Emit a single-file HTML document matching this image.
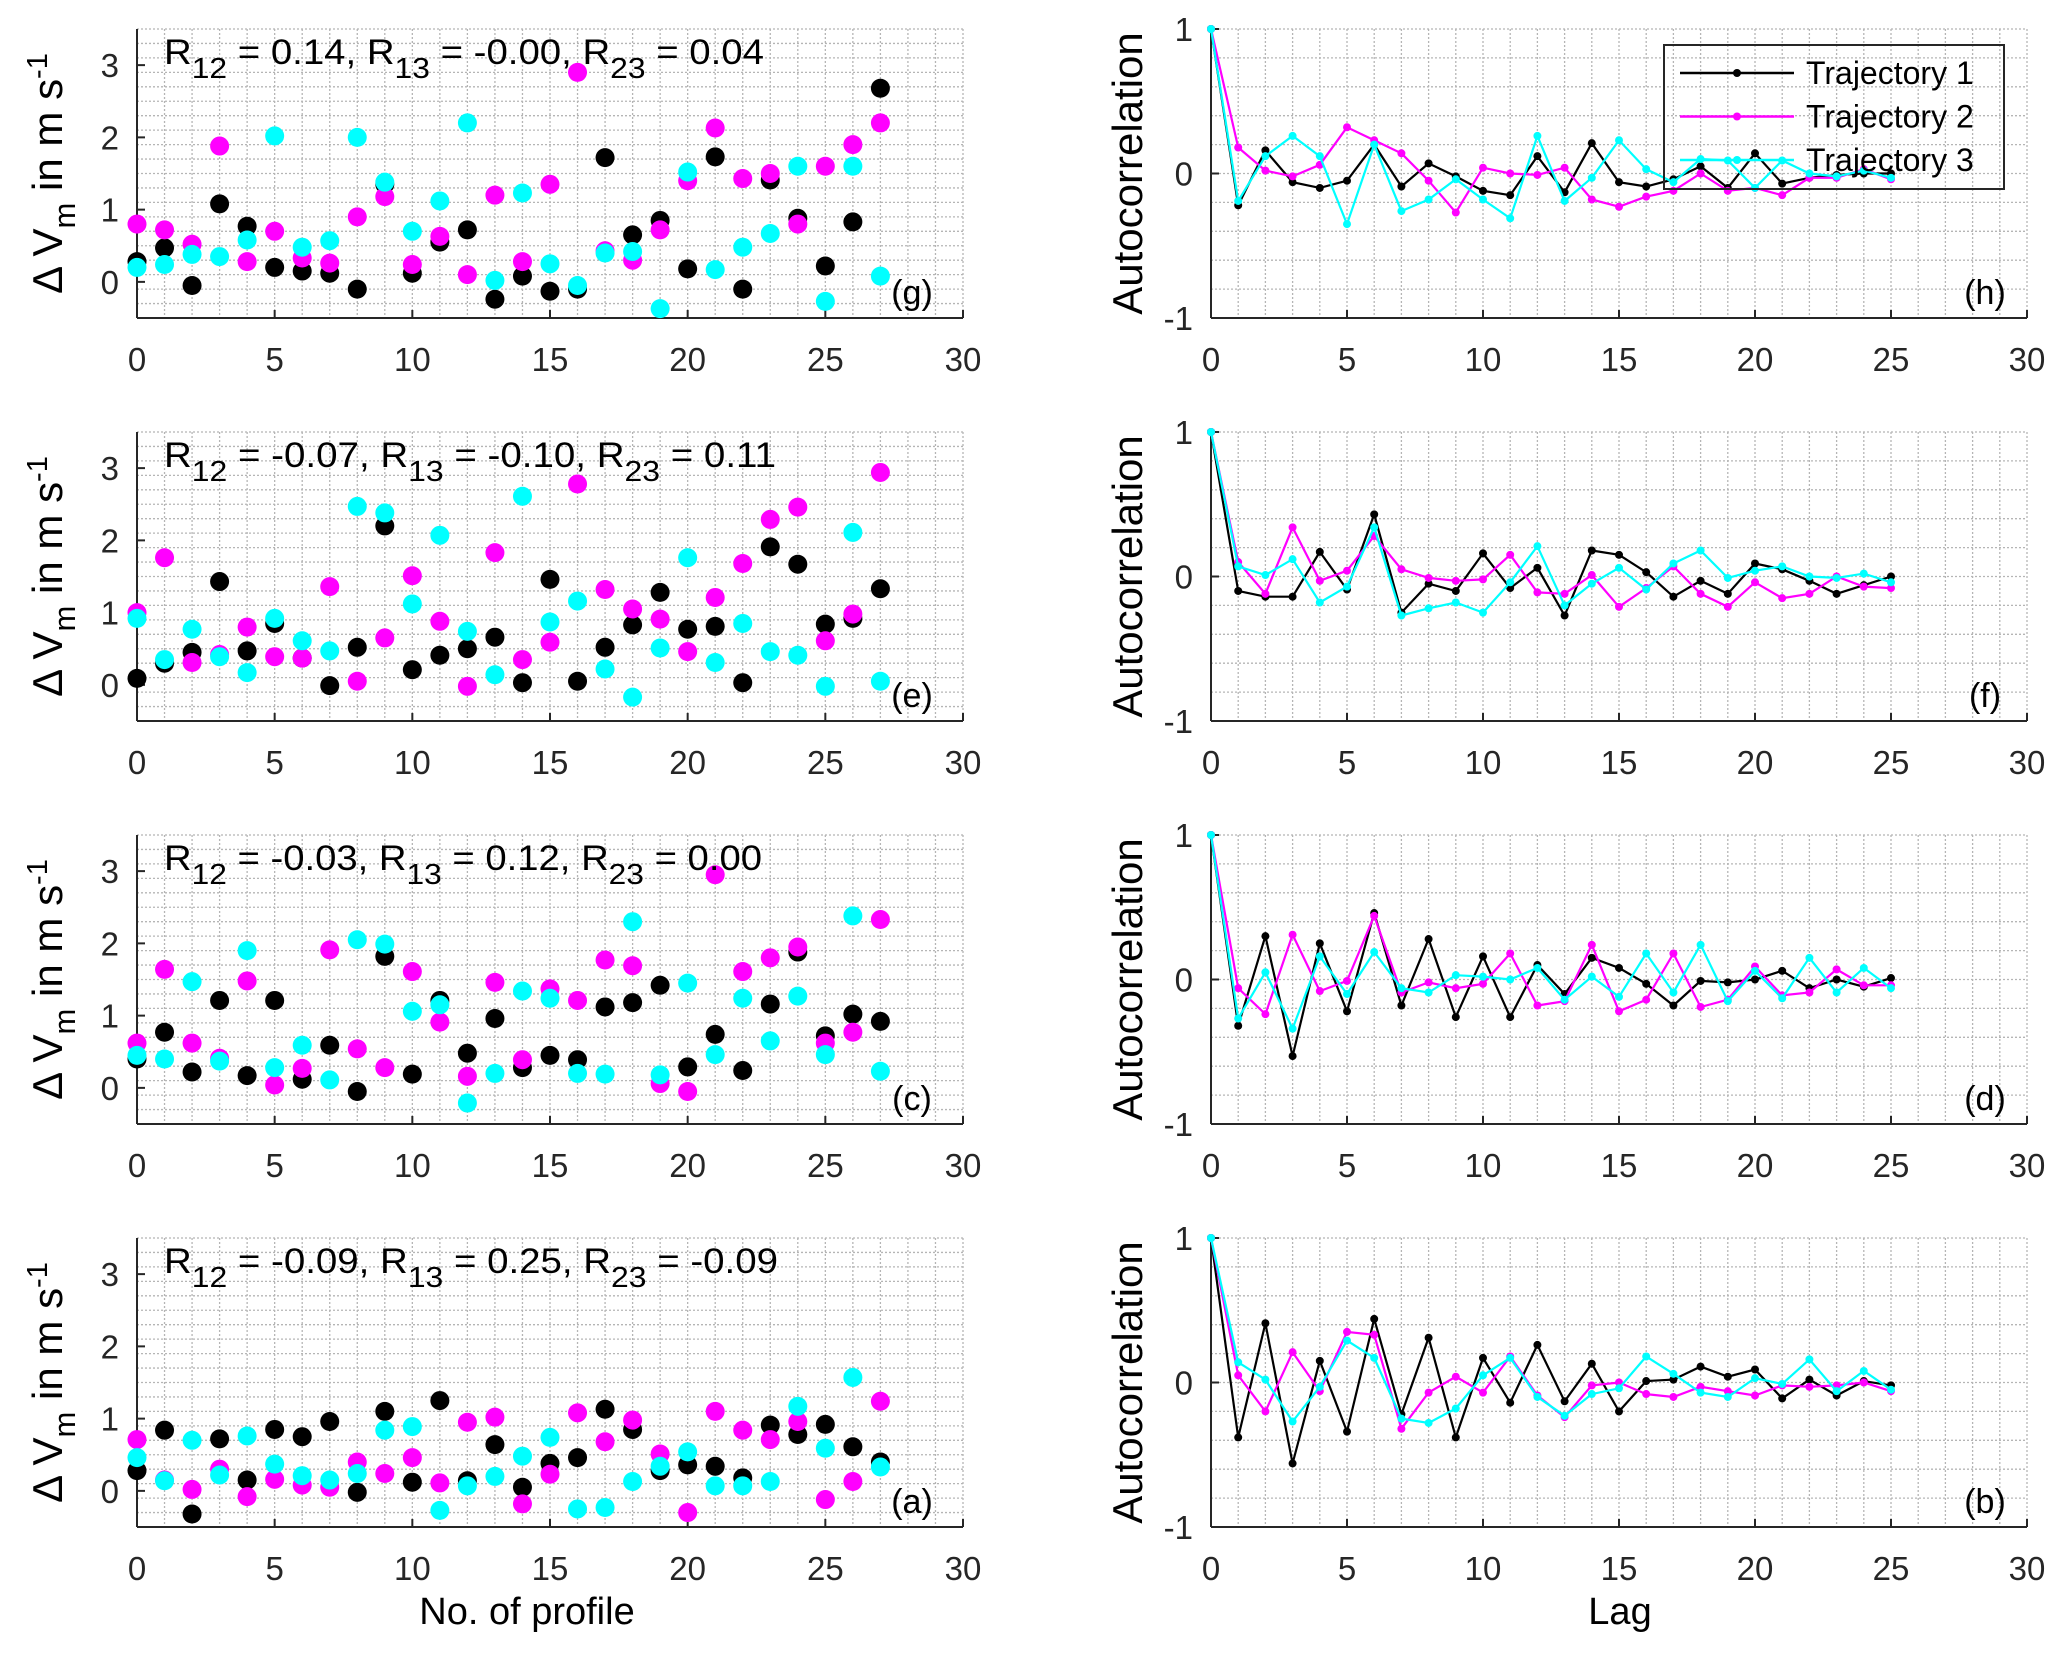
<!DOCTYPE html>
<html><head><meta charset="utf-8"><style>
body{margin:0;background:#fff}
svg{display:block;font-family:"Liberation Sans",sans-serif}
</style></head><body>
<svg id="fig" width="2067" height="1654" viewBox="0 0 2067 1654" xmlns="http://www.w3.org/2000/svg"></svg>
<script>
// ---- data ----
const profileIdx = [0,1,2,3,4,5,6,7,8,9,10,11,12,13,14,15,16,17,18,19,20,21,22,23,24,25,26,27];
const lagIdx = [0,1,2,3,4,5,6,7,8,9,10,11,12,13,14,15,16,17,18,19,20,21,22,23,24,25];
const xTicks = [0,5,10,15,20,25,30];
const yTicksLeft = [0,1,2,3];
const yTicksRight = [-1,0,1];
const panelLetters = ["(g)","(e)","(c)","(a)"];
const acfLetters = ["(h)","(f)","(d)","(b)"];
const corrTexts = [["0.14","-0.00","0.04"],["-0.07","-0.10","0.11"],["-0.03","0.12","0.00"],["-0.09","0.25","-0.09"]];
const seriesNames = ["Trajectory 1","Trajectory 2","Trajectory 3"];

// row g
const gT1 = [0.28,0.47,-0.05,1.08,0.77,0.2,0.15,0.12,-0.1,1.35,0.12,0.55,0.72,-0.24,0.08,-0.13,-0.1,1.72,0.65,0.85,0.18,1.73,-0.1,1.41,0.88,0.22,0.83,2.68];
const gT2 = [0.8,0.72,0.52,1.88,0.28,0.7,0.33,0.26,0.9,1.18,0.24,0.63,0.1,1.2,0.28,1.35,2.9,0.43,0.3,0.72,1.4,2.13,1.43,1.5,0.8,1.6,1.9,2.2];
const gT3 = [0.2,0.24,0.38,0.35,0.58,2.02,0.48,0.57,2.0,1.38,0.7,1.12,2.2,0.02,1.23,0.25,-0.05,0.4,0.42,-0.37,1.52,0.17,0.48,0.67,1.6,-0.27,1.6,0.08];
// row e
const eT1 = [0.09,0.3,0.45,1.43,0.47,0.85,0.37,-0.01,0.52,2.2,0.21,0.41,0.5,0.66,0.03,1.46,0.05,0.52,0.83,1.28,0.77,0.81,0.03,1.91,1.67,0.84,0.92,1.33];
const eT2 = [1.0,1.76,0.31,0.42,0.8,0.39,0.37,1.36,0.05,0.65,1.51,0.88,-0.02,1.83,0.35,0.59,2.78,1.32,1.05,0.91,0.46,1.21,1.68,2.29,2.46,0.61,0.98,2.94];
const eT3 = [0.92,0.35,0.77,0.39,0.17,0.92,0.61,0.47,2.47,2.38,1.12,2.07,0.74,0.14,2.61,0.87,1.16,0.22,-0.17,0.51,1.76,0.31,0.85,0.46,0.41,-0.02,2.11,0.05];
// row c
const cT1 = [0.4,0.77,0.22,1.21,0.17,1.21,0.12,0.59,-0.05,1.82,0.19,1.21,0.48,0.96,0.28,0.45,0.39,1.12,1.18,1.42,0.29,0.74,0.24,1.16,1.88,0.72,1.02,0.92];
const cT2 = [0.62,1.64,0.62,0.41,1.48,0.04,0.27,1.91,0.54,0.28,1.61,0.91,0.16,1.46,0.39,1.37,1.21,1.77,1.69,0.06,-0.05,2.95,1.61,1.8,1.95,0.62,0.77,2.33];
const cT3 = [0.45,0.4,1.47,0.37,1.9,0.28,0.59,0.11,2.05,1.99,1.06,1.15,-0.21,0.2,1.34,1.24,0.2,0.19,2.3,0.18,1.45,0.46,1.24,0.65,1.27,0.46,2.38,0.23];
// row a
const aT1 = [0.28,0.84,-0.32,0.72,0.15,0.85,0.75,0.96,-0.02,1.1,0.12,1.25,0.14,0.64,0.05,0.38,0.46,1.13,0.85,0.28,0.36,0.34,0.18,0.91,0.78,0.92,0.61,0.4];
const aT2 = [0.71,0.15,0.02,0.3,-0.08,0.16,0.08,0.05,0.4,0.24,0.46,0.11,0.95,1.02,-0.18,0.23,1.08,0.68,0.98,0.51,-0.3,1.1,0.84,0.71,0.96,-0.12,0.13,1.24];
const aT3 = [0.46,0.14,0.7,0.22,0.76,0.37,0.21,0.15,0.24,0.84,0.89,-0.27,0.07,0.2,0.48,0.74,-0.25,-0.23,0.13,0.34,0.54,0.07,0.07,0.13,1.17,0.59,1.57,0.33];

// ACF h
const hT1 = [1,-0.22,0.16,-0.06,-0.1,-0.05,0.2,-0.09,0.07,-0.02,-0.12,-0.15,0.12,-0.13,0.21,-0.06,-0.09,-0.04,0.05,-0.1,0.14,-0.07,-0.03,-0.01,0.0,0.0];
const hT2 = [1,0.18,0.02,-0.02,0.06,0.32,0.23,0.14,-0.05,-0.27,0.04,0.0,-0.01,0.04,-0.18,-0.23,-0.16,-0.12,0.0,-0.12,-0.1,-0.15,-0.03,-0.03,0.03,-0.04];
const hT3 = [1,-0.19,0.12,0.26,0.12,-0.35,0.2,-0.26,-0.18,-0.04,-0.18,-0.31,0.26,-0.19,-0.03,0.23,0.03,-0.06,0.1,0.09,-0.1,0.09,0.0,-0.02,0.02,-0.03];
// ACF f
const fT1 = [1,-0.1,-0.14,-0.14,0.17,-0.09,0.43,-0.25,-0.05,-0.1,0.16,-0.08,0.06,-0.27,0.18,0.15,0.03,-0.14,-0.03,-0.12,0.09,0.05,-0.03,-0.12,-0.06,0.0];
const fT2 = [1,0.1,-0.12,0.34,-0.03,0.04,0.28,0.05,-0.01,-0.03,-0.02,0.15,-0.11,-0.12,0.01,-0.21,-0.08,0.07,-0.12,-0.21,-0.04,-0.15,-0.12,0.0,-0.07,-0.08];
const fT3 = [1,0.07,0.01,0.12,-0.18,-0.07,0.34,-0.27,-0.22,-0.18,-0.25,-0.04,0.21,-0.2,-0.05,0.06,-0.09,0.09,0.18,-0.01,0.04,0.07,0.0,-0.01,0.02,-0.04];
// ACF d
const dT1 = [1,-0.32,0.3,-0.53,0.25,-0.22,0.46,-0.18,0.28,-0.26,0.16,-0.26,0.1,-0.1,0.15,0.08,-0.03,-0.18,-0.01,-0.02,0.0,0.06,-0.06,0.0,-0.05,0.01];
const dT2 = [1,-0.06,-0.24,0.31,-0.08,-0.01,0.44,-0.09,-0.02,-0.06,-0.03,0.18,-0.18,-0.15,0.24,-0.22,-0.14,0.18,-0.19,-0.14,0.09,-0.11,-0.09,0.07,-0.04,-0.04];
const dT3 = [1,-0.27,0.05,-0.34,0.16,-0.1,0.19,-0.06,-0.09,0.03,0.02,0.0,0.08,-0.14,0.02,-0.12,0.18,-0.09,0.24,-0.15,0.06,-0.13,0.15,-0.09,0.08,-0.06];
// ACF b
const bT1 = [1,-0.38,0.41,-0.56,0.15,-0.34,0.44,-0.22,0.31,-0.38,0.17,-0.14,0.26,-0.13,0.13,-0.2,0.01,0.02,0.11,0.04,0.09,-0.11,0.02,-0.09,0.01,-0.02];
const bT2 = [1,0.05,-0.2,0.21,-0.06,0.35,0.33,-0.32,-0.07,0.04,-0.07,0.18,-0.09,-0.24,-0.02,0.0,-0.08,-0.1,-0.03,-0.06,-0.09,-0.02,-0.03,-0.02,0.0,-0.06];
const bT3 = [1,0.14,0.02,-0.27,-0.03,0.29,0.17,-0.25,-0.28,-0.18,0.05,0.17,-0.1,-0.23,-0.08,-0.04,0.18,0.06,-0.07,-0.1,0.03,-0.01,0.16,-0.06,0.08,-0.05];

const scatterRows = [[gT1,gT2,gT3],[eT1,eT2,eT3],[cT1,cT2,cT3],[aT1,aT2,aT3]];
const acfRows = [[hT1,hT2,hT3],[fT1,fT2,fT3],[dT1,dT2,dT3],[bT1,bT2,bT3]];
const colors = ["#000000","#ff00ff","#00ffff"];

// ---- layout ----
const NS="http://www.w3.org/2000/svg";
const svg=document.getElementById('fig');
const rowTop=[29,432,835,1238], rowH=289;
const L={x0:137,x1:963}, R={x0:1211,x1:2027};
function mk(tag,attrs,parent){const e=document.createElementNS(NS,tag);for(const k in attrs)e.setAttribute(k,attrs[k]);(parent||svg).appendChild(e);return e;}

function drawAxes(g,ax,top,ymin,ymax,yMinorStep,yTicks){
  const sx=v=>ax.x0+(v-0)/30*(ax.x1-ax.x0);
  const sy=v=>top+rowH-(v-ymin)/(ymax-ymin)*rowH;
  const grid=mk('g',{},g);
  
  
  for(let i=1;i<=30;i++){mk('line',{x1:sx(i),x2:sx(i),y1:top,y2:top+rowH,stroke:'#b5b5b5','stroke-width':1.3,'stroke-dasharray':'2,2'},grid);}
  const n=Math.round((ymax-ymin)/yMinorStep);
  for(let i=1;i<=n;i++){const v=ymin+i*yMinorStep;mk('line',{x1:ax.x0,x2:ax.x1,y1:sy(v),y2:sy(v),stroke:'#b5b5b5','stroke-width':1.3,'stroke-dasharray':'2,2'},grid);}
  mk('line',{x1:ax.x0,x2:ax.x0,y1:top,y2:top+rowH,stroke:'#262626','stroke-width':2},g);
  mk('line',{x1:ax.x0,x2:ax.x1,y1:top+rowH,y2:top+rowH,stroke:'#262626','stroke-width':2},g);
  xTicks.forEach(t=>{
    mk('line',{x1:sx(t),x2:sx(t),y1:top+rowH,y2:top+rowH-8,stroke:'#262626','stroke-width':2},g);
    const tx=mk('text',{x:sx(t),y:top+rowH+53,'font-size':33,'text-anchor':'middle',fill:'#262626'},g);
    
    
    tx.textContent=t;
  });
  yTicks.forEach(t=>{
    mk('line',{x1:ax.x0,x2:ax.x0+8,y1:sy(t),y2:sy(t),stroke:'#262626','stroke-width':2},g);
    const tx=mk('text',{x:ax.x0-18,y:sy(t)+12,'font-size':33,'text-anchor':'end',fill:'#262626'},g);
    
    
    tx.textContent=t;
  });
  return {sx,sy};
}

for(let r=0;r<4;r++){
  const top=rowTop[r];
  const g=mk('g',{});
  
  
  const {sx,sy}=drawAxes(g,L,top,-0.5,3.5,0.2,yTicksLeft);
  scatterRows[r].forEach((ser,si)=>{
    ser.forEach((v,i)=>{
      const c=mk('circle',{cx:sx(profileIdx[i]),cy:sy(v),r:9.5,fill:colors[si]},g);
      
      
    });
  });
  const ct=corrTexts[r];
  const t=mk('text',{x:164,y:top+35,'font-size':35,fill:'#000',textLength:r===0?600:(r===1?612:(r===2?598:614)),lengthAdjust:'spacingAndGlyphs'},g);
  
  
  t.innerHTML='R<tspan dy="14" font-size="29">12</tspan><tspan dy="-14"> = '+ct[0]+', R</tspan><tspan dy="14" font-size="29">13</tspan><tspan dy="-14"> = '+ct[1]+', R</tspan><tspan dy="14" font-size="29">23</tspan><tspan dy="-14"> = '+ct[2]+'</tspan>';
  const pl=mk('text',{x:912,y:top+rowH-14,'font-size':34,'text-anchor':'middle',fill:'#000'},g);
  
  
  pl.textContent=panelLetters[r];
  const yl=mk('text',{x:0,y:0,'font-size':42,'text-anchor':'middle',fill:'#000',transform:'translate(62,'+(top+rowH/2)+') rotate(-90)'},g);
  
  
  yl.innerHTML='&#916; V<tspan dy="13" font-size="31">m</tspan><tspan dy="-13"> in m s</tspan><tspan dy="-15" font-size="29">-1</tspan>';

  const g2=mk('g',{});
  
  
  const ax2=drawAxes(g2,R,top,-1,1,0.2,yTicksRight);
  acfRows[r].forEach((ser,si)=>{
    const pts=ser.map((v,i)=>ax2.sx(lagIdx[i]).toFixed(1)+','+ax2.sy(v).toFixed(1)).join(' ');
    const pl2=mk('polyline',{points:pts,fill:'none',stroke:colors[si],'stroke-width':2.2},g2);
    
    
    ser.forEach((v,i)=>{
      const c=mk('circle',{cx:ax2.sx(lagIdx[i]),cy:ax2.sy(v),r:4,fill:colors[si]},g2);
      
      
    });
  });
  const pl3=mk('text',{x:1985,y:top+rowH-14,'font-size':34,'text-anchor':'middle',fill:'#000'},g2);
  
  
  pl3.textContent=acfLetters[r];
  const yl2=mk('text',{x:0,y:0,'font-size':42,'text-anchor':'middle',fill:'#000',transform:'translate(1142,'+(top+rowH/2)+') rotate(-90)'},g2);
  
  
  yl2.textContent='Autocorrelation';
}

// legend
const lg=mk('g',{});


mk('rect',{x:1664,y:45,width:340,height:144,fill:'none',stroke:'#262626','stroke-width':2},lg);
seriesNames.forEach((nm,i)=>{
  const y=73+i*43.5;
  const ln=mk('line',{x1:1680,x2:1794,y1:y,y2:y,stroke:colors[i],'stroke-width':2.5},lg);
  
  
  mk('circle',{cx:1737,cy:y,r:4,fill:colors[i]},lg);
  const t=mk('text',{x:1806,y:y+11,'font-size':32,fill:'#000'},lg);
  
  
  t.textContent=nm;
});

const xl=mk('text',{x:527,y:1624,'font-size':38,'text-anchor':'middle',fill:'#000'});


xl.textContent='No. of profile';
const xl2=mk('text',{x:1620,y:1624,'font-size':38,'text-anchor':'middle',fill:'#000'});


xl2.textContent='Lag';
</script>
</body></html>
